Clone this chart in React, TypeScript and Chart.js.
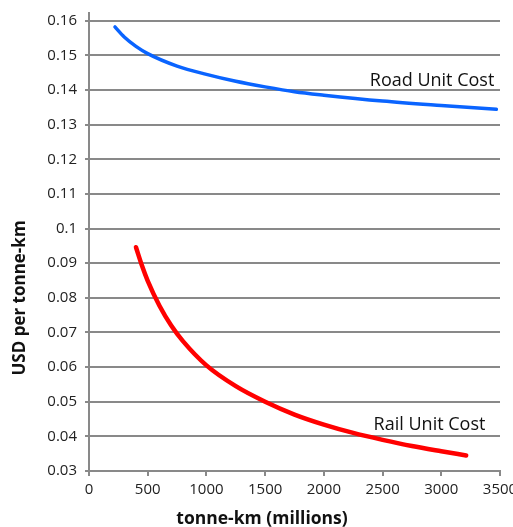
import React, { useEffect, useRef } from "react";
import { Chart, registerables } from "chart.js";

Chart.register(...registerables);

// X values (tonne-km, millions) and Y values (USD per tonne-km)
const roadX = [221, 300, 400, 500, 750, 1000, 1250, 1500, 1750, 2000, 2500, 3000, 3469];
const roadY = [0.1582, 0.1553, 0.1526, 0.1505, 0.1469, 0.1445, 0.1425, 0.1409, 0.1395, 0.1385, 0.1368, 0.1355, 0.1344];

const railX = [400, 450, 500, 600, 700, 800, 1000, 1250, 1500, 1750, 2000, 2250, 2500, 2750, 3000, 3212];
const railY = [0.0946, 0.0894, 0.0849, 0.0777, 0.072, 0.0675, 0.0605, 0.0545, 0.05, 0.0463, 0.0434, 0.041, 0.039, 0.0372, 0.0357, 0.0345];

const xTicks = [0, 500, 1000, 1500, 2000, 2500, 3000, 3500];
const xTickLabels = ["0", "500", "1000", "1500", "2000", "2500", "3000", "3500"];
const yTicks = [0.03, 0.04, 0.05, 0.06, 0.07, 0.08, 0.09, 0.1, 0.11, 0.12, 0.13, 0.14, 0.15, 0.16];
const yTickLabels = ["0.03", "0.04", "0.05", "0.06", "0.07", "0.08", "0.09", "0.1", "0.11", "0.12", "0.13", "0.14", "0.15", "0.16"];

const seriesNames = ["Road Unit Cost", "Rail Unit Cost"];
// label anchors (right edge, baseline) in data coordinates
const labelAnchorX = [3452, 3376];
const labelAnchorY = [0.1411, 0.0417];

const xTitle = "tonne-km (millions)";
const yTitle = "USD per tonne-km";

const GRID = "#898989";
const FONT = "'Open Sans', 'Liberation Sans', sans-serif";

export default function App() {
  const ref = useRef<HTMLCanvasElement | null>(null);

  useEffect(() => {
    if (!ref.current) return;
    const labelsPlugin = {
      id: "labels",
      afterDraw(chart: any) {
        const ctx = chart.ctx;
        const xs = chart.scales.x;
        const ys = chart.scales.y;
        ctx.save();
        ctx.fillStyle = "#111";
        ctx.font = `18px ${FONT}`;
        ctx.textAlign = "right";
        ctx.textBaseline = "alphabetic";
        seriesNames.forEach((n, i) => {
          ctx.fillText(n, xs.getPixelForValue(labelAnchorX[i]), ys.getPixelForValue(labelAnchorY[i]));
        });
        ctx.textAlign = "center";
        ctx.textBaseline = "middle";
        ctx.font = `bold 17.5px ${FONT}`;
        ctx.fillText(xTitle, 262, 519);
        ctx.font = `bold 17px ${FONT}`;
        ctx.translate(20, 298);
        ctx.rotate(-Math.PI / 2);
        ctx.fillText(yTitle, 0, 0);
        ctx.restore();
      },
    };

    const chart = new Chart(ref.current, {
      type: "scatter",
      data: {
        datasets: [
          {
            label: seriesNames[0],
            data: roadX.map((x, i) => ({ x, y: roadY[i] })),
            showLine: true,
            borderColor: "#0A64FF",
            borderWidth: 3.5,
            pointRadius: 0,
            cubicInterpolationMode: "monotone",
            borderCapStyle: "round",
          },
          {
            label: seriesNames[1],
            data: railX.map((x, i) => ({ x, y: railY[i] })),
            showLine: true,
            borderColor: "#FF0000",
            borderWidth: 4.5,
            pointRadius: 0,
            cubicInterpolationMode: "monotone",
            borderCapStyle: "round",
          },
        ],
      },
      options: {
        responsive: false,
        animation: false,
        layout: { padding: { top: 13, right: 13, left: 0, bottom: 0 } },
        plugins: { legend: { display: false }, tooltip: { enabled: false } },
        scales: {
          x: {
            type: "linear",
            min: 0,
            max: 3500,
            afterBuildTicks: (s: any) => {
              s.ticks = xTicks.map((v) => ({ value: v }));
            },
            afterFit: (s: any) => {
              s.height = 56;
              s.paddingLeft = 0;
              s.paddingRight = 0;
            },
            grid: { drawOnChartArea: false, drawTicks: true, tickLength: 5, color: GRID, lineWidth: 2 },
            border: { display: true, color: GRID, width: 2 },
            ticks: {
              padding: 5,
              maxRotation: 0,
              autoSkip: false,
              color: "#222",
              font: { family: FONT, size: 15 },
              callback: (_v: any, i: number) => xTickLabels[i],
            },
          },
          y: {
            type: "linear",
            min: 0.03,
            max: 0.16222,
            afterBuildTicks: (s: any) => {
              s.ticks = yTicks.map((v) => ({ value: v }));
            },
            afterFit: (s: any) => {
              s.width = 89;
              s.paddingTop = 0;
              s.paddingBottom = 0;
            },
            grid: { drawOnChartArea: true, drawTicks: true, tickLength: 4, color: GRID, lineWidth: 2 },
            border: { display: true, color: GRID, width: 2 },
            ticks: {
              padding: 8,
              autoSkip: false,
              color: "#222",
              font: { family: FONT, size: 15 },
              callback: (_v: any, i: number) => yTickLabels[i],
            },
          },
        },
      },
      plugins: [labelsPlugin],
    } as any);
    return () => chart.destroy();
  }, []);

  return (
    <div style={{ position: "absolute", left: 0, top: 0, width: 513, height: 527, background: "#fff" }}>
      <canvas ref={ref} width={513} height={527} style={{ width: 513, height: 527 }} />
    </div>
  );
}
